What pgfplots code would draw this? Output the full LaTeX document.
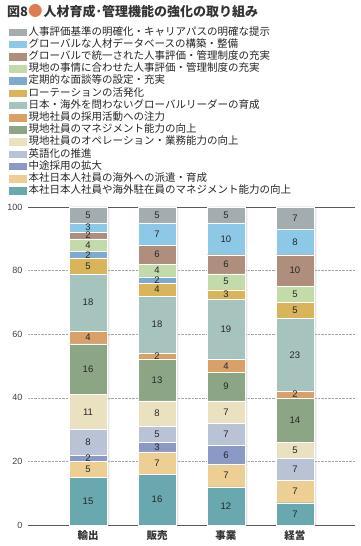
\documentclass[border=0pt]{standalone}
\usepackage{fontspec}
\setmainfont{Noto Sans CJK JP}
\newfontfamily\numfont{Liberation Sans}
\usepackage{pgfplots}
\usepackage{pgfplotstable}
\pgfplotsset{compat=1.18}
\definecolor{cA}{HTML}{A3ADB0}
\definecolor{cB}{HTML}{8DC8E6}
\definecolor{cC}{HTML}{B08E7E}
\definecolor{cD}{HTML}{C3DBAA}
\definecolor{cE}{HTML}{7DAAD0}
\definecolor{cF}{HTML}{D9B45A}
\definecolor{cG}{HTML}{A7C3BD}
\definecolor{cH}{HTML}{D9A06A}
\definecolor{cI}{HTML}{8BA585}
\definecolor{cJ}{HTML}{E9E1C0}
\definecolor{cK}{HTML}{BAC2D6}
\definecolor{cL}{HTML}{8A99C6}
\definecolor{cM}{HTML}{EDCE93}
\definecolor{cN}{HTML}{68A8AE}
\definecolor{titleorange}{HTML}{E07B50}
% columns: x, then series from bottom (n) to top (a)
\pgfplotstableread{
x  n  m  l  k  j  i  h  g  f  e  d  c  b  a
0  15 5  2  8  11 16 4  18 5  2  4  2  3  5
1  16 7  3  5  8  13 2  18 4  2  4  6  7  5
2  12 7  6  7  7  9  4  19 3  0  5  6  10 5
3  7  7  0  7  5  14 2  23 5  0  5  10 8  7
}\data
\pgfplotsset{
  seg/.style n args={2}{fill=#2, draw=white, line width=0.3pt,
    visualization depends on={\thisrow{#1} \as \rawy}},
}
\begin{document}
\begin{tikzpicture}
\path[use as bounding box] (0,0) rectangle (361pt,546pt);
\node[anchor=west, inner sep=0pt, font=\fontsize{13}{13}\selectfont\bfseries, text=black!80] at (7pt,535pt)
  {図8{\color{titleorange}\fontsize{14.5}{14.5}\selectfont●}\kern1pt 人材育成･管理機能の強化の取り組み};
% shadow axis
\begin{axis}[
  at={(28pt,21pt)}, anchor=south west,
  scale only axis, width=327pt, height=318pt,
  xmin=-0.87, xmax=3.87, ymin=0, ymax=100,
  hide axis,
  ybar, bar width=0.55, bar shift=2.5pt,
]
\addplot[fill=black!10, draw=none] coordinates {(0,100) (1,100) (2,100) (3,100)};
\end{axis}
\begin{axis}[
  at={(28pt,21pt)}, anchor=south west,
  scale only axis, width=327pt, height=318pt,
  xmin=-0.87, xmax=3.87, ymin=0, ymax=100,
  ybar stacked, bar width=0.55,
  xtick=data, xticklabels={輸出,販売,事業,経営},
  ytick={0,20,40,60,80,100},
  major tick length=0pt,
  ymajorgrids, grid style={densely dotted, black!35, line width=0.5pt},
  separate axis lines,
  y axis line style={draw=none},
  x axis line style={draw=black!65, line width=0.9pt},
  /pgf/number format/assume math mode=true,
  yticklabel style={font=\numfont\fontsize{9}{9}\selectfont, text=black!75, xshift=-2pt},
  xticklabel style={font=\fontsize{10.5}{10.5}\selectfont\bfseries, text=black!80, yshift=-2pt},
  nodes near coords={\ifdim\rawy pt<0.5pt\else\pgfmathprintnumber{\rawy}\fi},
  every node near coord/.append style={anchor=center, font=\numfont\fontsize{9.5}{9.5}\selectfont, text=black!85},
  legend image code/.code={\path[#1,draw=none] (0pt,-3.8pt) rectangle (18pt,3.8pt);},
  reverse legend,
  legend cell align=left,
  legend style={at={(axis description cs:-0.058,1.569)}, anchor=north west, draw=none, fill=none,
    inner sep=0pt, row sep=0pt, font=\fontsize{10.5}{10.5}\selectfont, text=black!85,
    nodes={inner ysep=0pt, inner xsep=1.5pt, text height=8.8pt, text depth=3.4pt}},
]
\addplot[seg={n}{cN}] table[x=x,y=n] {\data};
\addplot[seg={m}{cM}] table[x=x,y=m] {\data};
\addplot[seg={l}{cL}] table[x=x,y=l] {\data};
\addplot[seg={k}{cK}] table[x=x,y=k] {\data};
\addplot[seg={j}{cJ}] table[x=x,y=j] {\data};
\addplot[seg={i}{cI}] table[x=x,y=i] {\data};
\addplot[seg={h}{cH}] table[x=x,y=h] {\data};
\addplot[seg={g}{cG}] table[x=x,y=g] {\data};
\addplot[seg={f}{cF}] table[x=x,y=f] {\data};
\addplot[seg={e}{cE}] table[x=x,y=e] {\data};
\addplot[seg={d}{cD}] table[x=x,y=d] {\data};
\addplot[seg={c}{cC}] table[x=x,y=c] {\data};
\addplot[seg={b}{cB}] table[x=x,y=b] {\data};
\addplot[seg={a}{cA}] table[x=x,y=a] {\data};
\legend{本社日本人社員や海外駐在員のマネジメント能力の向上,
本社日本人社員の海外への派遣・育成,
中途採用の拡大,
英語化の推進,
現地社員のオペレーション・業務能力の向上,
現地社員のマネジメント能力の向上,
現地社員の採用活動への注力,
日本・海外を問わないグローバルリーダーの育成,
ローテーションの活発化,
定期的な面談等の設定・充実,
現地の事情に合わせた人事評価・管理制度の充実,
グローバルで統一された人事評価・管理制度の充実,
グローバルな人材データベースの構築・整備,
人事評価基準の明確化・キャリアパスの明確な提示}
\node[anchor=north, font=\numfont\fontsize{9}{9}\selectfont, text=black!75, inner sep=0pt]
  at (axis description cs:-0.022,0.985) {\%};
\end{axis}
\end{tikzpicture}
\end{document}
